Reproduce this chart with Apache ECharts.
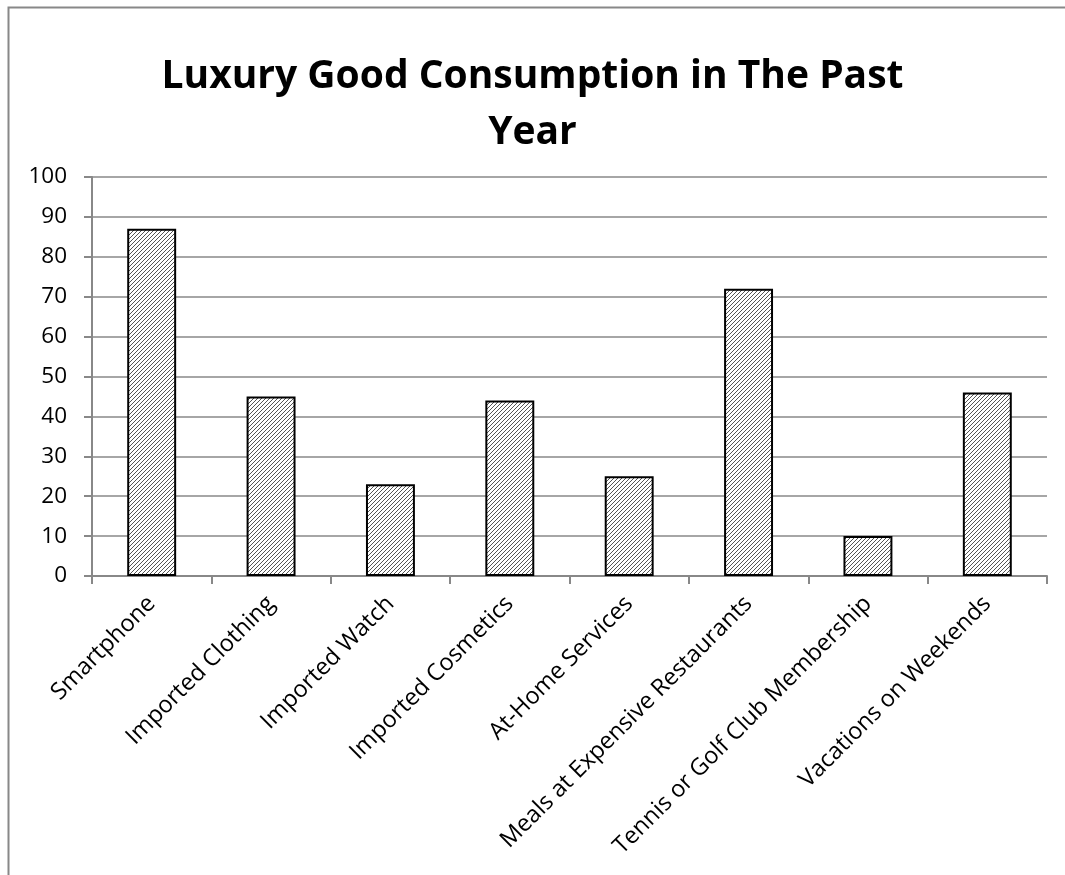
<!DOCTYPE html>
<html>
<head>
<meta charset="utf-8">
<script src="https://cdn.jsdelivr.net/npm/echarts@6/dist/echarts.min.js"></script>
<style>
html,body{margin:0;padding:0;background:#fff;}
#chart{width:1065px;height:875px;}
</style>
</head>
<body>
<div id="chart"></div>
<script>
const categories = ["Smartphone","Imported Clothing","Imported Watch","Imported Cosmetics","At-Home Services","Meals at Expensive Restaurants","Tennis or Golf Club Membership","Vacations on Weekends"];
const values = [87, 45, 23, 44, 25, 72, 10, 46];
const yTicks = [0, 10, 20, 30, 40, 50, 60, 70, 80, 90, 100];

function hatch() {
  const c = document.createElement('canvas');
  c.width = 4; c.height = 4;
  const g = c.getContext('2d');
  g.fillStyle = '#ffffff';
  g.fillRect(0, 0, 4, 4);
  g.strokeStyle = '#555555';
  g.lineWidth = 1;
  g.beginPath();
  g.moveTo(-1, 5); g.lineTo(5, -1);
  g.moveTo(-1, 1); g.lineTo(1, -1);
  g.moveTo(3, 5); g.lineTo(5, 3);
  g.stroke();
  return c;
}

const chart = echarts.init(document.getElementById('chart'), null, {renderer: 'canvas'});
const font = '"Open Sans", "Noto Sans", sans-serif';
chart.setOption({
  animation: false,
  backgroundColor: '#ffffff',
  graphic: [{
    type: 'rect', shape: {x: 8.5, y: 7.5, width: 1100, height: 900},
    style: {fill: 'none', stroke: '#888888', lineWidth: 2}, z: -1
  }],
  title: {
    text: 'Luxury Good Consumption in The Past\nYear',
    left: 'center', top: 44,
    textStyle: {fontFamily: font, fontWeight: 'bold', fontSize: 39, lineHeight: 56, color: '#000'}
  },
  grid: {left: 92, right: 18, top: 177, bottom: 299, containLabel: false},
  xAxis: {
    type: 'category', data: categories,
    axisLine: {lineStyle: {color: '#888888', width: 2}},
    axisTick: {show: true, length: 8, lineStyle: {color: '#888888', width: 2}},
    axisLabel: {rotate: 45, interval: 0, fontFamily: font, fontSize: 23.5, color: '#000', margin: 24},
    splitLine: {show: false}
  },
  yAxis: {
    type: 'value', min: yTicks[0], max: yTicks[yTicks.length - 1], interval: 10,
    axisLine: {show: true, lineStyle: {color: '#888888', width: 2}},
    axisTick: {show: true, length: 8, lineStyle: {color: '#888888', width: 2}},
    axisLabel: {fontFamily: font, fontSize: 22.5, color: '#000', margin: 25},
    splitLine: {show: true, lineStyle: {color: '#888888', width: 1.5}}
  },
  series: [{
    type: 'bar', data: values, barWidth: '41%',
    itemStyle: {color: {image: hatch(), repeat: 'repeat'}, borderColor: '#000', borderWidth: 2}
  }]
});
</script>
</body>
</html>
